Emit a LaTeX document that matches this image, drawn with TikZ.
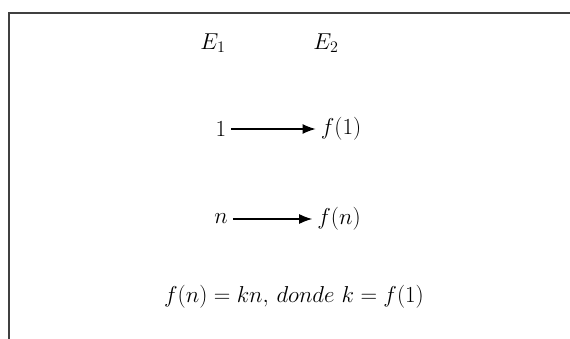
\documentclass[tikz,border=0pt]{standalone}
\usepackage{fix-cm}
\usetikzlibrary{arrows.meta}
\begin{document}
\begin{tikzpicture}[x=1pt,y=-1pt,font=\fontsize{23}{27}\selectfont,inner sep=5pt]
 \useasboundingbox (0,0) rectangle (570,339);
 \draw[line width=2pt,black!75] (9,339)--(9,13)--(570,13);
 \node (e1) at (213,43) {$E_1$};
 \node (e2) at (326,43) {$E_2$};
 \node (one) at (221,129) {$1$};
 \node (fone) at (341,129) {$f(1)$};
 \node (n) at (221,219) {$n$};
 \node (fn) at (339,219) {$f(n)$};
 \draw[-{Latex[length=13pt,width=10pt]},line width=1.2pt] (one)--(fone);
 \draw[-{Latex[length=13pt,width=10pt]},line width=1.2pt] (n)--(fn);
 \node (rule) at (294,297) {$f(n) = kn,\, donde\ k = f(1)$};
\end{tikzpicture}
\end{document}
